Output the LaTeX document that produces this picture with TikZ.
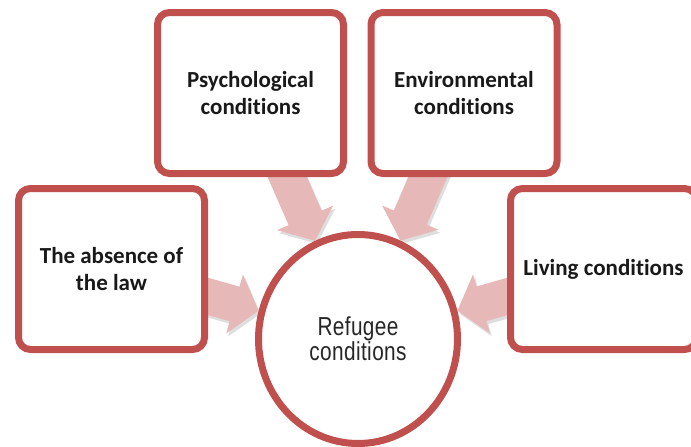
\documentclass[tikz,border=0pt]{standalone}
\usepackage{fontspec}
\setmainfont[Ligatures=NoCommon]{Carlito}
\newfontfamily\narrowfont[FakeStretch=0.8, LetterSpace=1.5]{Liberation Sans}
\usepackage{tikz}
\usetikzlibrary{arrows.meta,shapes,shadows,backgrounds}
\definecolor{boxred}{RGB}{192,80,77}
\definecolor{arrowpink}{RGB}{230,185,184}

\begin{document}
\begin{tikzpicture}[x=1pt, y=-1pt, >={Triangle[width=60pt, length=25pt]}, inner sep=0pt, align=center]
\useasboundingbox (0,0) rectangle (691,447);

\tikzstyle{cond}=[draw=boxred, fill=white, line width=7pt, rounded corners=12pt, minimum width=186pt, minimum height=161pt, text=black!90, font=\fontsize{23}{27}\selectfont\bfseries, drop shadow={shadow xshift=2pt, shadow yshift=-3pt, opacity=.3}]
\node [cond] (law) at (111.5,269) {The absence of\\the law};
\node [cond] (psy) at (250.5,93) {Psychological\\conditions};
\node [cond] (env) at (464,93) {Environmental\\conditions};
\node [cond] (liv) at (603.5,269) {Living conditions};
\node [cond, ellipse, rounded corners=0pt, minimum width=199pt, minimum height=209pt, text=black!85, font=\fontsize{26}{25}\selectfont\narrowfont] (ref) at (358,339) {Refugee\\conditions};

% arrows and their shadows, behind the boxes
\begin{scope}[on background layer]
\begin{scope}[transform canvas={shift={(2pt,-3pt)}}]
\tikzstyle{every edge}=[draw=black!13, ->, line width=36pt]
\path
(law.center) edge (ref)
(psy.center) edge (ref)
(env.center) edge (ref)
(liv.center) edge (ref);
\end{scope}
\tikzstyle{every edge}=[draw=arrowpink, ->, line width=36pt]
\path
(law.center) edge (ref)
(psy.center) edge (ref)
(env.center) edge (ref)
(liv.center) edge (ref);
\end{scope}

\end{tikzpicture}
\end{document}
